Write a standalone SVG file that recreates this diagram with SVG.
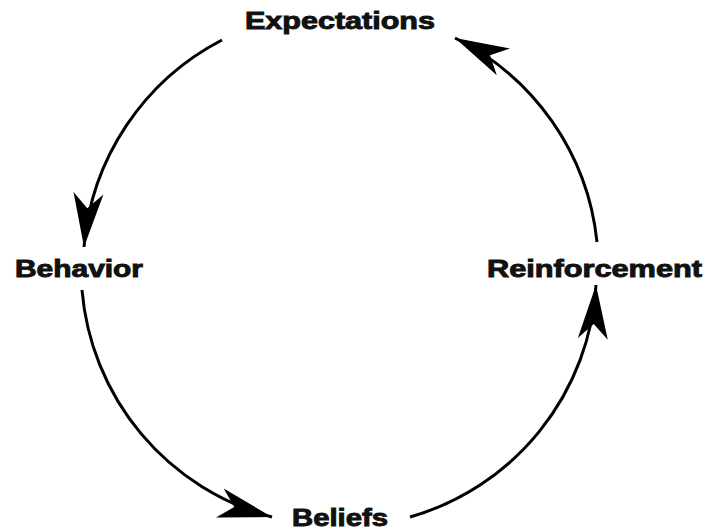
<svg xmlns="http://www.w3.org/2000/svg" width="704" height="531" viewBox="0 0 704 531">
  <style>
    .lbl { font-family: "Liberation Sans", Arial, sans-serif; font-weight: 900; font-size: 23px; fill: #111; stroke: #111; stroke-width: 0.9; }
    .arc { fill: none; stroke: #000; stroke-width: 3; }
  </style>
  <defs>
    <marker id="head" markerUnits="userSpaceOnUse" markerWidth="60" markerHeight="34" refX="54" refY="16" orient="auto" viewBox="0 0 60 32">
      <path d="M54,16 L0,1 L15,16 L0,31 Z" fill="#000"/>
    </marker>
  </defs>
  <rect width="704" height="531" fill="#fff"/>
  <g id="connectors">
    <path class="arc" d="M222,40 A257,257 0 0,0 84,247" marker-end="url(#head)"/>
    <path class="arc" d="M82,290 A257,257 0 0,0 272,517" marker-end="url(#head)"/>
    <path class="arc" d="M410,517 A257,257 0 0,0 596,285" marker-end="url(#head)"/>
    <path class="arc" d="M597,242 A257,257 0 0,0 455,38" marker-end="url(#head)"/>
  </g>
  <g id="expectations">
    <text class="lbl" x="245" y="29" textLength="190" lengthAdjust="spacingAndGlyphs">Expectations</text>
  </g>
  <g id="behavior">
    <text class="lbl" x="15" y="277" textLength="128" lengthAdjust="spacingAndGlyphs">Behavior</text>
  </g>
  <g id="reinforcement">
    <text class="lbl" x="487" y="277" textLength="215" lengthAdjust="spacingAndGlyphs">Reinforcement</text>
  </g>
  <g id="beliefs">
    <text class="lbl" x="292" y="526" textLength="96" lengthAdjust="spacingAndGlyphs">Beliefs</text>
  </g>
</svg>
